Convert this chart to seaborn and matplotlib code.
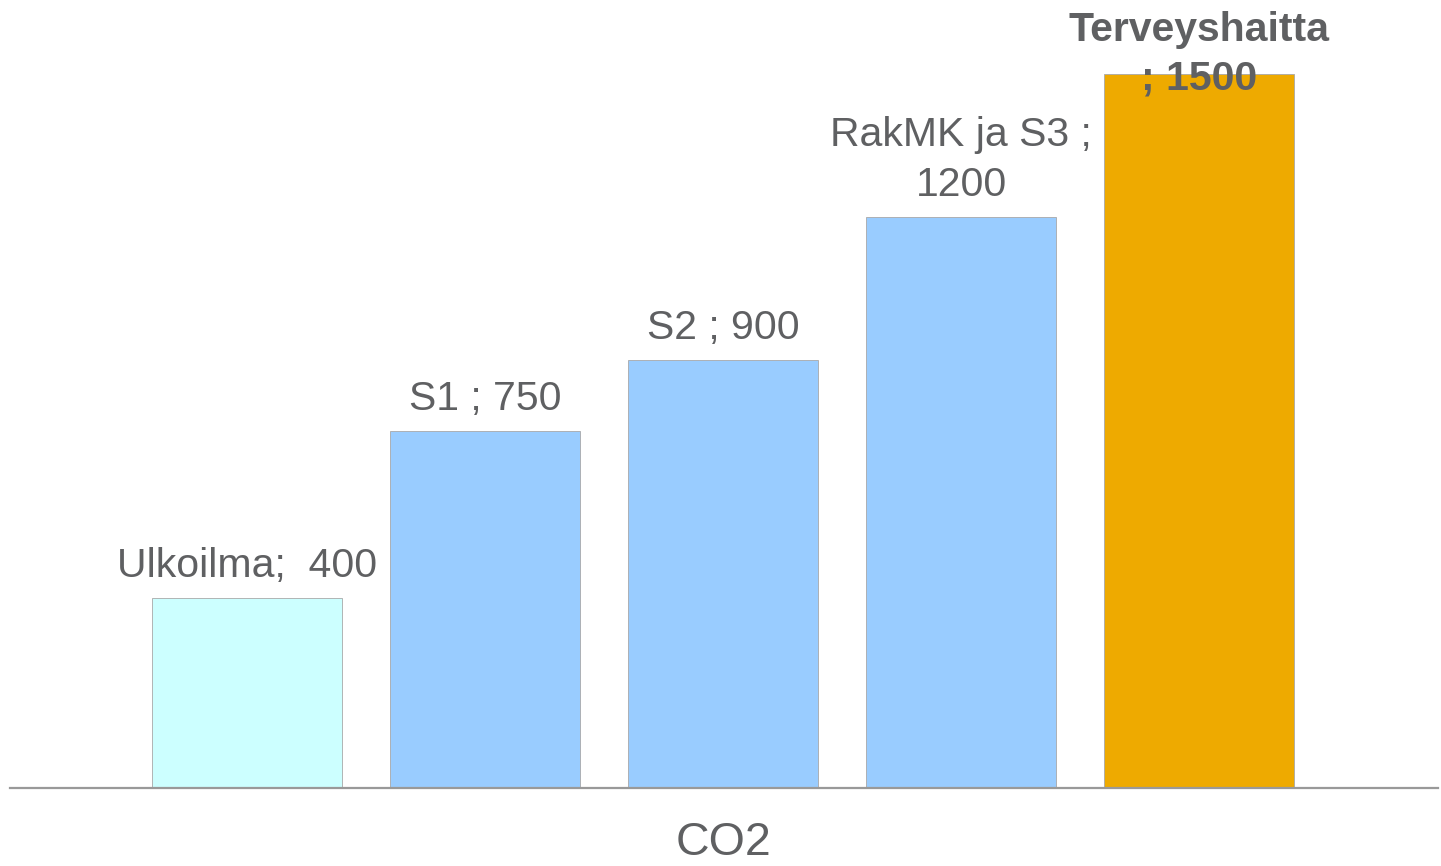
import matplotlib
matplotlib.use("Agg")
import matplotlib.pyplot as plt
import seaborn as sns
import pandas as pd

# data
categories = ["Ulkoilma", "S1", "S2", "RakMK ja S3", "Terveyshaitta"]
values = [400, 750, 900, 1200, 1500]
labels = ["Ulkoilma;  400", "S1 ; 750", "S2 ; 900", "RakMK ja S3 ;\n1200", "Terveyshaitta\n; 1500"]
group_label = "CO2"

bar_colors = ["#CCFFFF", "#99CCFF", "#99CCFF", "#99CCFF", "#EEAA00"]
TEXT = "#5F6062"

sns.set_style("white")
plt.rcParams["font.family"] = ["Liberation Sans", "DejaVu Sans"]

df = pd.DataFrame({"series": categories, "value": values})

fig = plt.figure(figsize=(14.41, 8.66), dpi=100)
ax = fig.add_axes([10 / 1441, 78 / 866, 1428 / 1441, 788 / 866])

sns.barplot(data=df, x="series", y="value", hue="series", palette=bar_colors,
            order=categories, hue_order=categories, width=0.8, dodge=False,
            saturation=1, legend=False, edgecolor="#A8A8A8", linewidth=0.6, ax=ax)

ax.set_xlim(-0.996, 5.004)
ax.set_ylim(0, 1500 * 788 / 714)

for i, (v, lab) in enumerate(zip(values, labels)):
    bold = i == len(values) - 1
    off = -16 * 0.72 if bold else 21 * 0.72
    ax.annotate(lab, xy=(i, v), xytext=(0, off), textcoords="offset points",
                ha="center", va="baseline", fontsize=29.5, color=TEXT,
                fontweight="bold" if bold else "normal", linespacing=1.38,
                annotation_clip=False)

for s in ["top", "right", "left"]:
    ax.spines[s].set_visible(False)
ax.spines["bottom"].set_color("#999999")
ax.spines["bottom"].set_linewidth(1.6)
ax.set_yticks([])
ax.set_xticks([])
ax.set_ylabel("")
ax.set_xlabel(group_label, fontsize=33.5, color=TEXT, labelpad=24)

fig.savefig("out.png", dpi=100)
